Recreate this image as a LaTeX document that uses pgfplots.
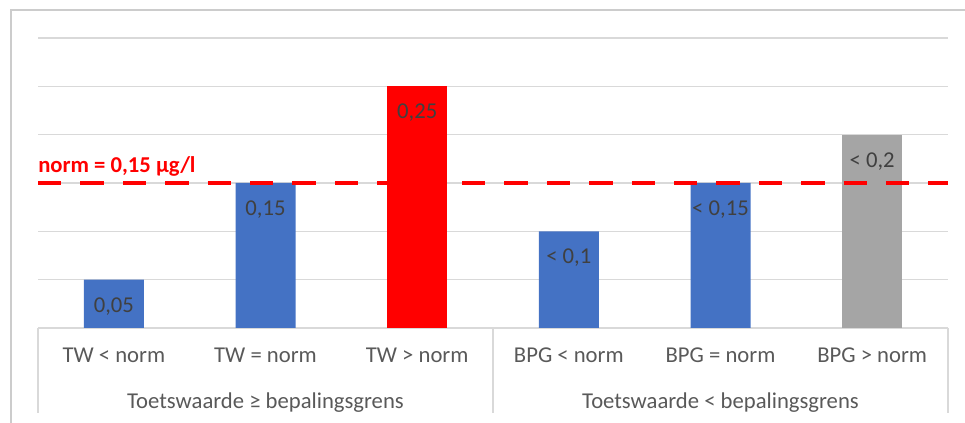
\documentclass[border=0pt]{standalone}
\usepackage{fontspec}
\setmainfont{Carlito}
\usepackage{pgfplots}
\pgfplotsset{compat=1.18}
\definecolor{barblue}{HTML}{4472C4}
\definecolor{barred}{HTML}{FF0000}
\definecolor{bargray}{HTML}{A5A5A5}
\definecolor{gridgray}{HTML}{D9D9D9}
\definecolor{lblgray}{HTML}{595959}
\definecolor{valgray}{HTML}{404040}
\definecolor{framegray}{HTML}{CCCCCC}
\newcommand{\chartfont}{\fontsize{17}{20}\selectfont}
\pgfplotsset{
  mybar/.style={
    ybar, bar width=45pt, bar shift=0pt, draw=none, fill=#1,
    point meta=explicit symbolic,
    nodes near coords,
    every node near coord/.append style={anchor=center, yshift=-20pt, font=\chartfont, text=valgray},
  }
}
\begin{document}
\begin{tikzpicture}
\begin{axis}[
  at={(0,0)}, anchor=south west,
  scale only axis, width=682.5pt, height=217.5pt,
  xmin=-0.5, xmax=5.5, ymin=0, ymax=0.30,
  axis line style={draw=none},
  tick style={draw=none},
  major tick length=0pt,
  ytick={0,0.05,0.1,0.15,0.2,0.25,0.3},
  yticklabels={},
  ymajorgrids,
  grid style={gridgray, line width=1.1pt},
  xtick={0,1,2,3,4,5},
  xticklabels={TW < norm, TW = norm, TW > norm, BPG < norm, BPG = norm, BPG > norm},
  xticklabel style={anchor=base, yshift=-26.25pt, font=\chartfont, text=lblgray},
  clip=false,
]
\addplot[mybar=barblue] coordinates {(0,0.05) [0,05] (1,0.15) [0,15] (3,0.10) [< 0,1] (4,0.15) [< 0,15]};
\addplot[mybar=barred] coordinates {(2,0.25) [0,25]};
\addplot[mybar=bargray] coordinates {(5,0.20) [< 0,2]};
\addplot[barred, line width=3.5pt, dash pattern=on 17.6pt off 14.2pt] coordinates {(-0.5,0.15) (5.5,0.15)};
\node[anchor=base west, inner sep=0pt, yshift=7.5pt, text=barred, font=\bfseries\chartfont] at (axis cs:-0.5,0.15) {norm = 0,15 µg/l};
\node[anchor=base, yshift=-60.75pt, text=lblgray, font=\chartfont] at (axis cs:1,0) {Toetswaarde ≥ bepalingsgrens};
\node[anchor=base, yshift=-60.75pt, text=lblgray, font=\chartfont] at (axis cs:4,0) {Toetswaarde < bepalingsgrens};
\draw[gridgray, line width=1.1pt] (axis cs:-0.5,0) -- ++(0pt,-63.75pt);
\draw[gridgray, line width=1.1pt] (axis cs:2.5,0) -- ++(0pt,-63.75pt);
\draw[gridgray, line width=1.1pt] (axis cs:5.5,0) -- ++(0pt,-63.75pt);
\end{axis}
\draw[framegray, line width=1.5pt] (-20.25pt,-80pt) -- (-20.25pt,238.5pt) -- (710pt,238.5pt);
\pgfresetboundingbox
\useasboundingbox (-28.5pt,-71.25pt) rectangle (695.25pt,246pt);
\end{tikzpicture}
\end{document}
